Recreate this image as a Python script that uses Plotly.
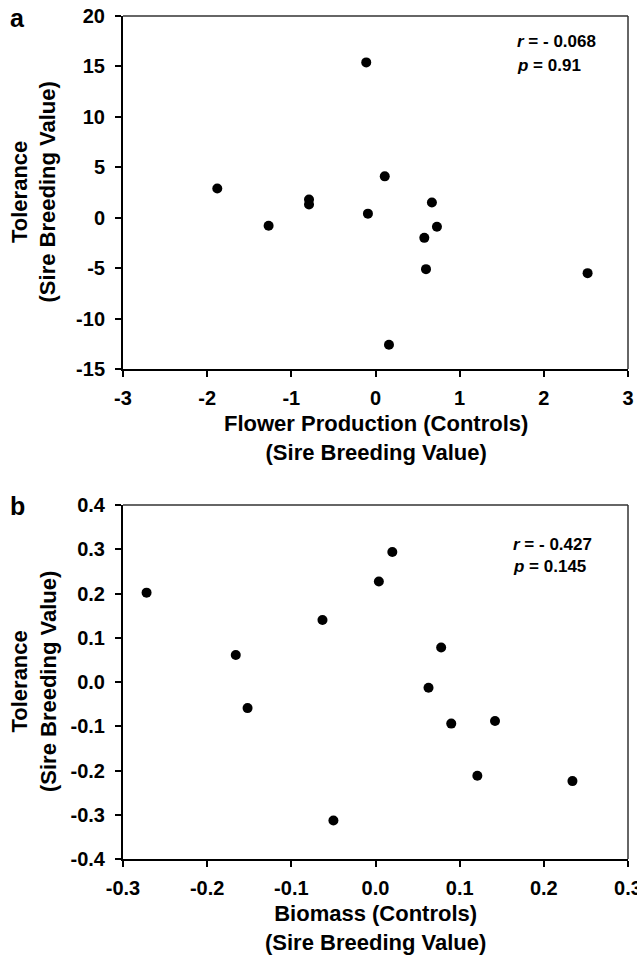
import plotly.graph_objects as go

# Panel a: Flower production (controls) vs tolerance
flower_x = [-1.88, -1.27, -0.79, -0.79, -0.11, 0.11, -0.09, 0.67, 0.73, 0.58, 0.60, 2.52, 0.16]
flower_y = [2.9, -0.8, 1.8, 1.3, 15.4, 4.1, 0.4, 1.5, -0.9, -2.0, -5.1, -5.5, -12.6]

# Panel b: Biomass (controls) vs tolerance
biomass_x = [-0.272, -0.166, -0.152, 0.020, 0.004, -0.063, 0.078, 0.063, 0.090, 0.142, 0.121, 0.234, -0.050]
biomass_y = [0.202, 0.061, -0.059, 0.294, 0.227, 0.140, 0.078, -0.013, -0.094, -0.088, -0.212, -0.224, -0.313]

a_xticks = [-3, -2, -1, 0, 1, 2, 3]
a_xlabels = ["-3", "-2", "-1", "0", "1", "2", "3"]
a_yticks = [-15, -10, -5, 0, 5, 10, 15, 20]
a_ylabels = ["-15", "-10", "-5", "0", "5", "10", "15", "20"]
b_xticks = [-0.3, -0.2, -0.1, 0.0, 0.1, 0.2, 0.3]
b_xlabels = ["-0.3", "-0.2", "-0.1", "0.0", "0.1", "0.2", "0.3"]
b_yticks = [-0.4, -0.3, -0.2, -0.1, 0.0, 0.1, 0.2, 0.3, 0.4]
b_ylabels = ["-0.4", "-0.3", "-0.2", "-0.1", "0.0", "0.1", "0.2", "0.3", "0.4"]

FONT = "Liberation Sans, Arial, Helvetica, sans-serif"
tickfont = dict(family=FONT, size=20, color="black", weight="bold")

fig = go.Figure()
fig.add_trace(go.Scatter(x=flower_x, y=flower_y, mode="markers", xaxis="x", yaxis="y",
                         marker=dict(size=10, color="black"), showlegend=False))
fig.add_trace(go.Scatter(x=biomass_x, y=biomass_y, mode="markers", xaxis="x2", yaxis="y2",
                         marker=dict(size=10, color="black"), showlegend=False))

axis_common = dict(showline=True, linecolor="black", linewidth=2, ticks="outside",
                   ticklen=6, tickwidth=1.5, tickcolor="black", showgrid=False,
                   zeroline=False, tickfont=tickfont, automargin=False,
                   ticklabeloverflow="allow")

fig.update_layout(
    width=637, height=956,
    margin=dict(l=123, r=9, t=16, b=97),
    paper_bgcolor="white", plot_bgcolor="white",
    xaxis=dict(domain=[0, 1], anchor="y", range=[-3, 3], tickvals=a_xticks,
               ticktext=a_xlabels, ticklabelstandoff=4, **axis_common),
    yaxis=dict(domain=[0.5813, 1], anchor="x", range=[-15, 20], tickvals=a_yticks,
               ticktext=a_ylabels, ticklabelstandoff=6, **axis_common),
    xaxis2=dict(domain=[0, 1], anchor="y2", range=[-0.3, 0.3], tickvals=b_xticks,
                ticktext=b_xlabels, ticklabelstandoff=4, **axis_common),
    yaxis2=dict(domain=[0, 0.4199], anchor="x2", range=[-0.4, 0.4], tickvals=b_yticks,
                ticktext=b_ylabels, ticklabelstandoff=6, **axis_common),
)

# top/right frame lines
for xr, yr in [("x domain", "y domain"), ("x2 domain", "y2 domain")]:
    fig.add_shape(type="line", xref=xr, yref=yr, x0=0, x1=1, y0=1, y1=1,
                  line=dict(color="#333333", width=1.5))
    fig.add_shape(type="line", xref=xr, yref=yr, x0=1, x1=1, y0=0, y1=1,
                  line=dict(color="#333333", width=1.5))

title_font = dict(family=FONT, size=22, color="black", weight="bold")
ann_font = dict(family=FONT, size=17, color="black", weight="bold")

annotations = []
for xr, yr, xt in [("x domain", "y domain", "Flower Production (Controls)<br>(Sire Breeding Value)"),
                   ("x2 domain", "y2 domain", "Biomass (Controls)<br>(Sire Breeding Value)")]:
    annotations.append(dict(xref=xr, yref=yr, x=0.5, y=0, yshift=-40, yanchor="top",
                            xanchor="center", text=xt, showarrow=False, font=title_font,
                            align="center"))
    annotations.append(dict(xref="paper", yref=yr, x=-123 / 505, xshift=34, y=0.5,
                            xanchor="center", yanchor="middle", textangle=-90,
                            text="Tolerance<br>(Sire Breeding Value)", showarrow=False,
                            font=title_font, align="center"))

# r / p statistics
stats = [("x domain", "y domain", "<i>r</i> = - 0.068", "<i>p</i> = 0.91", 25, 49, 515),
         ("x2 domain", "y2 domain", "<i>r</i> = - 0.427", "<i>p</i> = 0.145", 39, 61, 511)]
for xr, yr, rt, pt, ry, py, xl in stats:
    xf = (xl - 123) / 505
    annotations.append(dict(xref=xr, yref=yr, x=xf, y=1, yshift=-ry, xanchor="left",
                            yanchor="middle", text=rt, showarrow=False, font=ann_font))
    annotations.append(dict(xref=xr, yref=yr, x=xf, y=1, yshift=-py, xanchor="left",
                            yanchor="middle", text=pt, showarrow=False, font=ann_font))

# panel letters
panel_font = dict(family=FONT, size=25, color="black", weight="bold")
annotations.append(dict(xref="paper", yref="y domain", x=-123 / 505, xshift=17, y=1, yshift=-2,
                        xanchor="center", yanchor="middle", text="a", showarrow=False,
                        font=panel_font))
annotations.append(dict(xref="paper", yref="y2 domain", x=-123 / 505, xshift=17, y=1, yshift=-1,
                        xanchor="center", yanchor="middle", text="b", showarrow=False,
                        font=panel_font))

fig.update_layout(annotations=annotations)
fig.write_html("out.html", config={"displayModeBar": False},
               post_script="document.body.style.margin='0';document.body.style.overflow='hidden';")
